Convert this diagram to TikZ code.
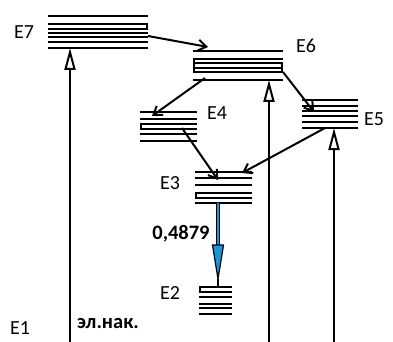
\documentclass[tikz,border=0pt]{standalone}
\usepackage{fontspec}
\setmainfont{Carlito}
\usetikzlibrary{arrows.meta}
\definecolor{arrowblue}{RGB}{25,150,220}
\tikzset{
  lvl/.style={line width=2.4pt},
  lbl/.style={font=\fontsize{20}{22}\selectfont, inner sep=0pt},
  bold/.style={font=\fontsize{20.5}{22}\selectfont\bfseries, inner sep=0pt},
  trans/.style={line width=2pt, -{Straight Barb[length=8pt,width=11pt,line width=2pt]}},
  excite/.style={line width=2pt, -{Triangle[open,length=22pt,width=11pt,line width=2pt]}},
}
\newcommand{\lvstack}[3]{\foreach \yy in {#3}{\draw[lvl] (#1,\yy) -- (#2,\yy);}}
\begin{document}
\begin{tikzpicture}[x=1pt,y=-1pt]
\useasboundingbox (0,0) rectangle (393,342);
% level stacks
\lvstack{48}{148}{16,24,29,33,37,42,48}
\draw[lvl] (147,24) -- (147,30);
\lvstack{193}{283}{51,59,63,68,72,80}
\draw[lvl] (194,59) -- (194,72);
\draw[lvl] (282,63) -- (282,72);
\lvstack{302}{358}{100,106,111,116,122,128}
\lvstack{140}{197}{112,119,124,129,134,141}
\draw[lvl] (141,124) -- (141,129);
\lvstack{195}{252}{172,178,185,193,198,203}
\draw[lvl] (196,193) -- (196,198);
\lvstack{199}{232}{287,292,297,304,308,314}
\draw[lvl] (200,287) -- (200,292);
% anchor points
\coordinate (E7r) at (148,36);
\coordinate (E7b) at (70,48);
\coordinate (E6l) at (208,47);
\coordinate (E6a) at (205,78);
\coordinate (E6b) at (283,72);
\coordinate (E6c) at (269,80);
\coordinate (E5t) at (314,112);
\coordinate (E5b) at (325,128);
\coordinate (E5c) at (334,128);
\coordinate (E4t) at (152,116);
\coordinate (E4b) at (182,128);
\coordinate (E3t) at (218,180);
\coordinate (E3r) at (242,173);
\coordinate (E3b) at (218,203);
\coordinate (E2t) at (218,287);
\coordinate (A1) at (70,342);
\coordinate (A2) at (269,342);
\coordinate (A3) at (334,342);
% transitions
\draw[trans] (E7r) -- (E6l);
\draw[trans] (E6a) -- (E4t);
\draw[trans] (E6b) -- (E5t);
\draw[trans] (E4b) -- (E3t);
\draw[trans] (E5b) -- (E3r);
% excitations
\draw[excite] (A1) -- (E7b);
\draw[excite] (A2) -- (E6c);
\draw[excite] (A3) -- (E5c);
% blue arrow E3 -> E2
\coordinate (H1) at (218,245);
\coordinate (H2) at (218,279);
\draw[line width=4.5pt, black] (E3b) -- (H1);
\draw[line width=2pt, arrowblue] (E3b) -- ([yshift=-1pt]H1);
\draw[line width=1.2pt, fill=arrowblue] ([xshift=-5.5pt]H1) -- ([xshift=5.5pt]H1) -- (H2) -- cycle;
\draw[line width=2pt] (H2) -- (E2t);
% labels
\node[lbl] (L7) at (24,32) {E7};
\node[lbl] (L6) at (306,46) {E6};
\node[lbl] (L4) at (217,113) {E4};
\node[lbl] (L5) at (374,119) {E5};
\node[lbl] (L3) at (170,183) {E3};
\node[lbl] (L2) at (170,293) {E2};
\node[lbl] (L1) at (20,328) {E1};
\node[bold] (val) at (181,234) {0,4879};
\node[bold] (nak) at (108,324) {эл.нак.};
\end{tikzpicture}
\end{document}
